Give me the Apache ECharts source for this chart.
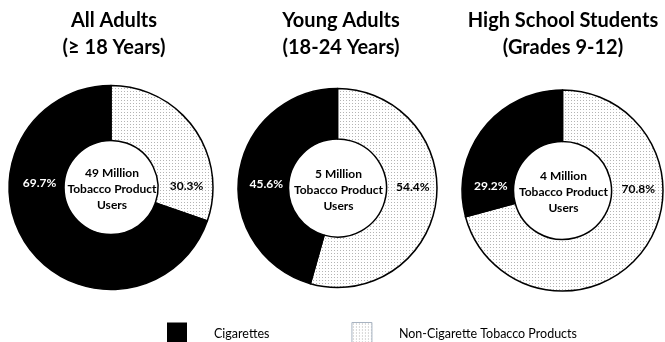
<!DOCTYPE html>
<html>
<head>
<meta charset="utf-8">
<script src="https://cdn.jsdelivr.net/npm/echarts@6/dist/echarts.min.js"></script>
<style>
html,body{margin:0;padding:0;background:#fff;}
#c{width:665px;height:342px;}
</style>
</head>
<body>
<div id="c"></div>
<script>
// ---- data ----
var categories = ['Cigarettes', 'Non-Cigarette Tobacco Products'];
var groupTitles = ['All Adults\n(\u2265 18 Years)', 'Young Adults\n(18-24 Years)', 'High School Students\n(Grades 9-12)'];
var centerTexts = ['49 Million\nTobacco Product\nUsers', '5 Million\nTobacco Product\nUsers', '4 Million\nTobacco Product\nUsers'];
var cigarettes = [69.7, 45.6, 29.2];
var nonCigarette = [30.3, 54.4, 70.8];

// ---- layout ----
var FONT = 'Lato';
var pies = [
  {cx: 111, cy: 187.5, r0: 47, r1: 102, titleX: 114},
  {cx: 337.5, cy: 188, r0: 49, r1: 99.5, titleX: 341},
  {cx: 562.5, cy: 190.5, r0: 49, r1: 100.5, titleX: 563}
];

// dotted pattern
var pc = document.createElement('canvas');
pc.width = 3; pc.height = 3;
var pctx = pc.getContext('2d');
pctx.fillStyle = '#ffffff';
pctx.fillRect(0, 0, 3, 3);
pctx.fillStyle = '#b4b4b4';
pctx.fillRect(1, 1, 1, 1);
var dotted = {image: pc, repeat: 'repeat'};

var series = pies.map(function (p, i) {
  return {
    type: 'pie',
    center: [p.cx, p.cy],
    radius: [p.r0, p.r1],
    startAngle: 90,
    clockwise: true,
    silent: true,
    animation: false,
    itemStyle: {borderColor: '#000', borderWidth: 1.5},
    label: {
      show: true,
      position: 'inside',
      fontFamily: FONT,
      fontWeight: 'bold',
      fontSize: 12,
      formatter: function (d) { return d.value.toFixed(1) + '%'; }
    },
    labelLine: {show: false},
    labelLayout: function (params) {
      var pp = pies[params.seriesIndex];
      var mid = (pp.r0 + pp.r1) / 2;
      var isCig = params.dataIndex === 1;
      return {
        x: pp.cx + (isCig ? -mid + 3 : mid + 1),
        y: pp.cy + (isCig ? -4 : -1),
        align: 'center',
        verticalAlign: 'middle'
      };
    },
    data: [
      {name: categories[1], value: nonCigarette[i], itemStyle: {color: dotted}, label: {color: '#000'}},
      {name: categories[0], value: cigarettes[i], itemStyle: {color: '#000'}, label: {color: '#fff'}}
    ]
  };
});

var graphics = [];
pies.forEach(function (p, i) {
  graphics.push({
    type: 'text', x: p.titleX, y: 34,
    style: {text: groupTitles[i], font: 'bold 20px ' + FONT, lineHeight: 27, align: 'center', verticalAlign: 'middle', fill: '#000'}
  });
  graphics.push({
    type: 'text', x: p.cx + 1, y: p.cy + 2,
    style: {text: centerTexts[i], font: 'bold 12px ' + FONT, lineHeight: 16, align: 'center', verticalAlign: 'middle', fill: '#000'}
  });
});

var chart = echarts.init(document.getElementById('c'), null, {renderer: 'canvas'});
chart.setOption({
  backgroundColor: '#fff',
  animation: false,
  legend: {
    data: [
      {name: categories[0], itemStyle: {color: '#000', borderWidth: 0}},
      {name: categories[1], itemStyle: {color: dotted, borderColor: '#a9b4c2', borderWidth: 1}}
    ],
    left: 167,
    top: 322,
    padding: 0,
    icon: 'rect',
    itemWidth: 20,
    itemHeight: 22,
    itemGap: 82,
    selectedMode: false,
    textStyle: {fontFamily: FONT, fontSize: 12.5, color: '#000', padding: [0, 0, 0, 22]}
  },
  graphic: graphics,
  series: series
});
</script>
</body>
</html>
